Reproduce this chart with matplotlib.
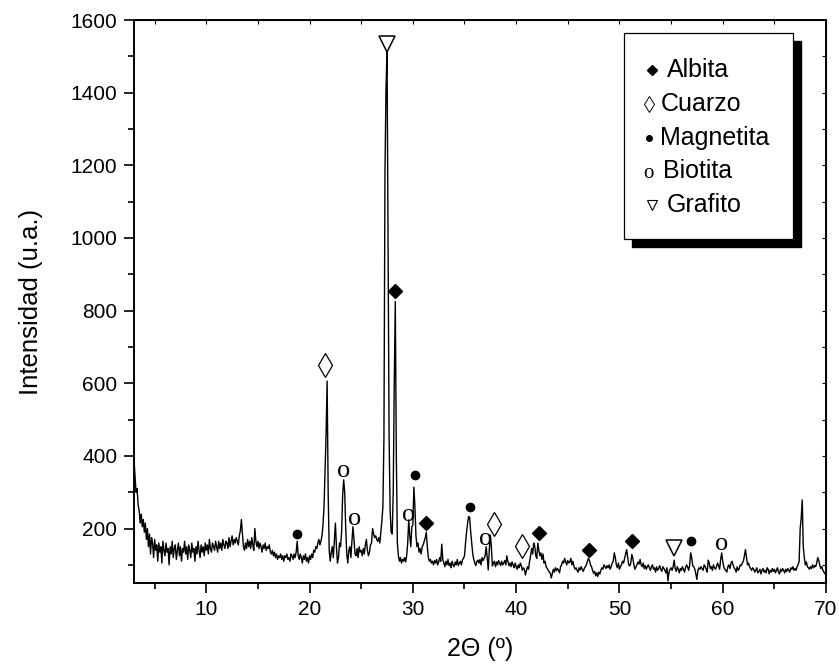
import numpy as np
import matplotlib.pyplot as plt
from matplotlib.patches import Rectangle

plt.rcParams['font.family'] = ['Liberation Sans', 'DejaVu Sans']

# XRD scan, 3-70 deg in 0.1 deg steps (one row per degree)
intensity = [
    390, 345, 300, 310, 265, 250, 215, 240, 205, 225,   # 3
    190, 215, 170, 200, 150, 185, 130, 175, 160, 120,   # 4
    170, 140, 155, 110, 160, 135, 150, 105, 165, 140,   # 5
    125, 160, 135, 145, 100, 150, 130, 165, 120, 145,   # 6
    155, 115, 140, 160, 125, 150, 110, 145, 135, 165,   # 7
    130, 150, 115, 155, 140, 120, 160, 135, 145, 110,   # 8
    150, 130, 165, 140, 120, 155, 135, 150, 125, 160,   # 9
    140, 155, 130, 170, 145, 135, 160, 150, 140, 165,   # 10
    150, 135, 165, 145, 160, 140, 170, 155, 145, 165,   # 11
    160, 145, 175, 150, 165, 180, 155, 170, 160, 175,   # 12
    165, 155, 180, 195, 225, 185, 150, 140, 160, 145,   # 13
    170, 150, 165, 145, 175, 155, 140, 200, 165, 150,   # 14
    165, 145, 160, 150, 135, 155, 145, 160, 140, 150,   # 15
    145, 155, 135, 130, 140, 125, 135, 120, 130, 115,   # 16
    125, 120, 130, 115, 125, 110, 125, 120, 130, 115,   # 17
    120, 110, 130, 125, 115, 130, 120, 135, 165, 125,   # 18
    115, 130, 120, 105, 125, 115, 130, 110, 120, 105,   # 19
    125, 115, 130, 120, 140, 135, 150, 145, 160, 170,   # 20
    155, 165, 180, 210, 260, 360, 460, 606, 300, 140,   # 21
    110, 135, 150, 120, 170, 215, 150, 105, 120, 160,   # 22
    150, 190, 290, 334, 300, 200, 130, 105, 140, 150,   # 23
    120, 165, 205, 170, 130, 125, 145, 120, 150, 135,   # 24
    140, 125, 145, 130, 155, 170, 140, 125, 135, 155,   # 25
    160, 200, 185, 175, 180, 170, 165, 175, 160, 190,   # 26
    220, 260, 450, 1180, 1410, 1515, 1000, 450, 250, 190,  # 27
    185, 300, 600, 825, 400, 160, 125, 110, 120, 105,   # 28
    115, 110, 120, 108, 125, 160, 224, 180, 150, 205,   # 29
    210, 314, 260, 180, 150, 160, 135, 145, 130, 150,   # 30
    155, 165, 175, 190, 150, 120, 110, 115, 105, 110,   # 31
    100, 112, 105, 115, 100, 108, 120, 110, 157, 115,   # 32
    105, 95, 110, 100, 115, 98, 105, 92, 110, 100,      # 33
    95, 108, 100, 115, 98, 105, 110, 100, 113, 118,     # 34
    125, 160, 190, 215, 233, 230, 190, 160, 130, 115,   # 35
    105, 98, 110, 113, 105, 115, 100, 120, 112, 118,    # 36
    125, 150, 120, 86, 140, 182, 150, 97, 105, 110,     # 37
    95, 108, 100, 112, 105, 98, 110, 100, 105, 112,     # 38
    100, 125, 110, 98, 105, 95, 108, 100, 92, 105,      # 39
    95, 88, 100, 92, 105, 98, 85, 92, 88, 72,           # 40
    85, 95, 88, 110, 125, 145, 130, 160, 152, 125,      # 41
    118, 160, 140, 125, 133, 115, 130, 105, 110, 95,    # 42
    90, 86, 80, 78, 64, 75, 88, 80, 92, 84,             # 43
    90, 85, 78, 95, 100, 110, 105, 118, 108, 100,       # 44
    112, 105, 108, 118, 100, 110, 95, 88, 92, 85,       # 45
    80, 92, 86, 95, 88, 82, 90, 95, 100, 110,           # 46
    118, 112, 100, 95, 85, 77, 82, 70, 78, 68,          # 47
    80, 75, 85, 92, 88, 100, 95, 90, 98, 92,            # 48
    100, 88, 95, 105, 110, 133, 120, 100, 92, 105,      # 49
    88, 95, 100, 110, 105, 118, 130, 142, 120, 100,     # 50
    97, 105, 129, 118, 100, 88, 95, 100, 108, 102,      # 51
    115, 100, 95, 105, 90, 98, 88, 95, 100, 92,         # 52
    85, 95, 100, 88, 92, 80, 95, 85, 90, 98,            # 53
    88, 82, 95, 90, 85, 78, 92, 56, 80, 88,             # 54
    92, 85, 95, 113, 90, 82, 95, 88, 78, 90,            # 55
    85, 95, 88, 80, 92, 100, 95, 85, 98, 133,           # 56
    120, 97, 95, 88, 75, 60, 85, 92, 88, 95,            # 57
    90, 85, 100, 95, 88, 80, 113, 105, 90, 95,          # 58
    85, 100, 92, 88, 95, 105, 98, 88, 115, 133,         # 59
    110, 95, 88, 85, 80, 95, 100, 90, 105, 110,         # 60
    100, 92, 88, 80, 95, 85, 90, 100, 98, 105,          # 61
    110, 125, 142, 120, 100, 105, 95, 90, 85, 92,       # 62
    88, 80, 85, 92, 78, 82, 88, 75, 85, 90,             # 63
    80, 85, 78, 92, 88, 75, 85, 80, 90, 82,             # 64
    88, 78, 85, 92, 80, 75, 88, 82, 90, 85,             # 65
    78, 88, 82, 90, 85, 80, 92, 88, 95, 85,             # 66
    90, 85, 95, 100, 110, 200, 229, 279, 150, 120,      # 67
    100, 108, 95, 92, 88, 95, 90, 100, 92, 98,          # 68
    95, 105, 120, 112, 100, 90, 95, 85, 80, 75,         # 69
    80,                                                 # 70
]
two_theta = np.linspace(3, 70, len(intensity))

# phase labels placed above peaks
albita_x = [28.3, 31.3, 42.2, 47.1, 51.2]
albita_y = [854, 215, 189, 140, 165]
cuarzo_x = [21.5, 37.85, 40.6]
cuarzo_y = [650, 213, 153]
magnetita_x = [18.8, 30.2, 35.5, 56.9]
magnetita_y = [185, 348, 259, 165]
biotita_x = [23.3, 24.4, 29.6, 37.0, 59.9]
biotita_y = [364, 232, 243, 177, 163]
grafito_x = [27.46, 55.3]
grafito_y = [1534, 146]

legend_names = ['Albita', 'Cuarzo', 'Magnetita', 'Biotita', 'Grafito']

fig, ax = plt.subplots(figsize=(8.39, 6.68), dpi=100)
fig.subplots_adjust(left=0.1597, right=0.9845, top=0.970, bottom=0.1272)

ax.plot(two_theta, intensity, color='black', linewidth=1.0)

ax.plot(albita_x, albita_y, 'D', color='black', markersize=7, linestyle='none')
ax.plot(cuarzo_x, cuarzo_y, 'd', markerfacecolor='white', markeredgecolor='black',
        markersize=12, markeredgewidth=0.9, linestyle='none')
ax.plot(magnetita_x, magnetita_y, 'o', color='black', markersize=6, linestyle='none')
ax.plot(grafito_x, grafito_y, 'v', markerfacecolor='white', markeredgecolor='black',
        markersize=11, markeredgewidth=1.1, linestyle='none')
for bx, by in zip(biotita_x, biotita_y):
    ax.text(bx, by, 'o', family='Liberation Serif', fontsize=19,
            ha='center', va='center_baseline')

# legend box with drop shadow
x0, x1, y0, y1 = 0.708, 0.952, 0.611, 0.977
ax.add_patch(Rectangle((x0 + 0.0116, y0 - 0.0142), x1 - x0, y1 - y0,
                       transform=ax.transAxes, facecolor='black', edgecolor='black', zorder=5))
ax.add_patch(Rectangle((x0, y0), x1 - x0, y1 - y0, transform=ax.transAxes,
                       facecolor='white', edgecolor='black', linewidth=0.9, zorder=6))
rows = [0.911, 0.851, 0.790, 0.732, 0.671]
sx = 0.748
ax.plot(sx, rows[0], 'D', color='black', markersize=5, transform=ax.transAxes, zorder=7)
ax.plot(sx - 0.004, rows[1], 'd', markerfacecolor='white', markeredgecolor='black',
        markersize=8, markeredgewidth=0.7, transform=ax.transAxes, zorder=7)
ax.plot(sx - 0.004, rows[2], 'o', color='black', markersize=4, transform=ax.transAxes, zorder=7)
ax.text(sx - 0.004, rows[3], 'o', family='Liberation Serif', fontsize=15, ha='center',
        va='center_baseline', transform=ax.transAxes, zorder=7)
ax.plot(sx, rows[4], 'v', markerfacecolor='white', markeredgecolor='black',
        markersize=7, markeredgewidth=0.8, transform=ax.transAxes, zorder=7)
text_x = [0.770, 0.761, 0.760, 0.765, 0.770]
for tx, ty, name in zip(text_x, rows, legend_names):
    ax.text(tx, ty, name, fontsize=18, ha='left', va='center', transform=ax.transAxes, zorder=7)

ax.set_xlim(3, 70)
ax.set_ylim(50, 1600)
ax.set_xticks([10, 20, 30, 40, 50, 60, 70])
ax.set_xticks(np.arange(5, 70, 5), minor=True)
ax.set_yticks([200, 400, 600, 800, 1000, 1200, 1400, 1600])
ax.set_yticks(np.arange(100, 1600, 100), minor=True)
ax.tick_params(which='major', direction='out', length=7, width=1.2, labelsize=15, pad=5)
ax.tick_params(which='minor', direction='out', length=4, width=1.2)
for side in ['left', 'bottom', 'top', 'right']:
    ax.spines[side].set_linewidth(1.4)

# small inward ticks along the top and right edges
top = ax.secondary_xaxis('top')
top.set_xticks(np.arange(5, 70, 5))
top.tick_params(direction='in', length=3, width=0.8, labeltop=False)
right = ax.secondary_yaxis('right')
right.set_yticks(np.arange(100, 1600, 100))
right.tick_params(direction='in', length=3, width=0.8, labelright=False)

ax.set_xlabel('2\u0398 (\u00ba)', fontsize=18, labelpad=13)
ax.set_ylabel('Intensidad (u.a.)', fontsize=18.5, labelpad=20)

fig.savefig('out.png', dpi=100)
